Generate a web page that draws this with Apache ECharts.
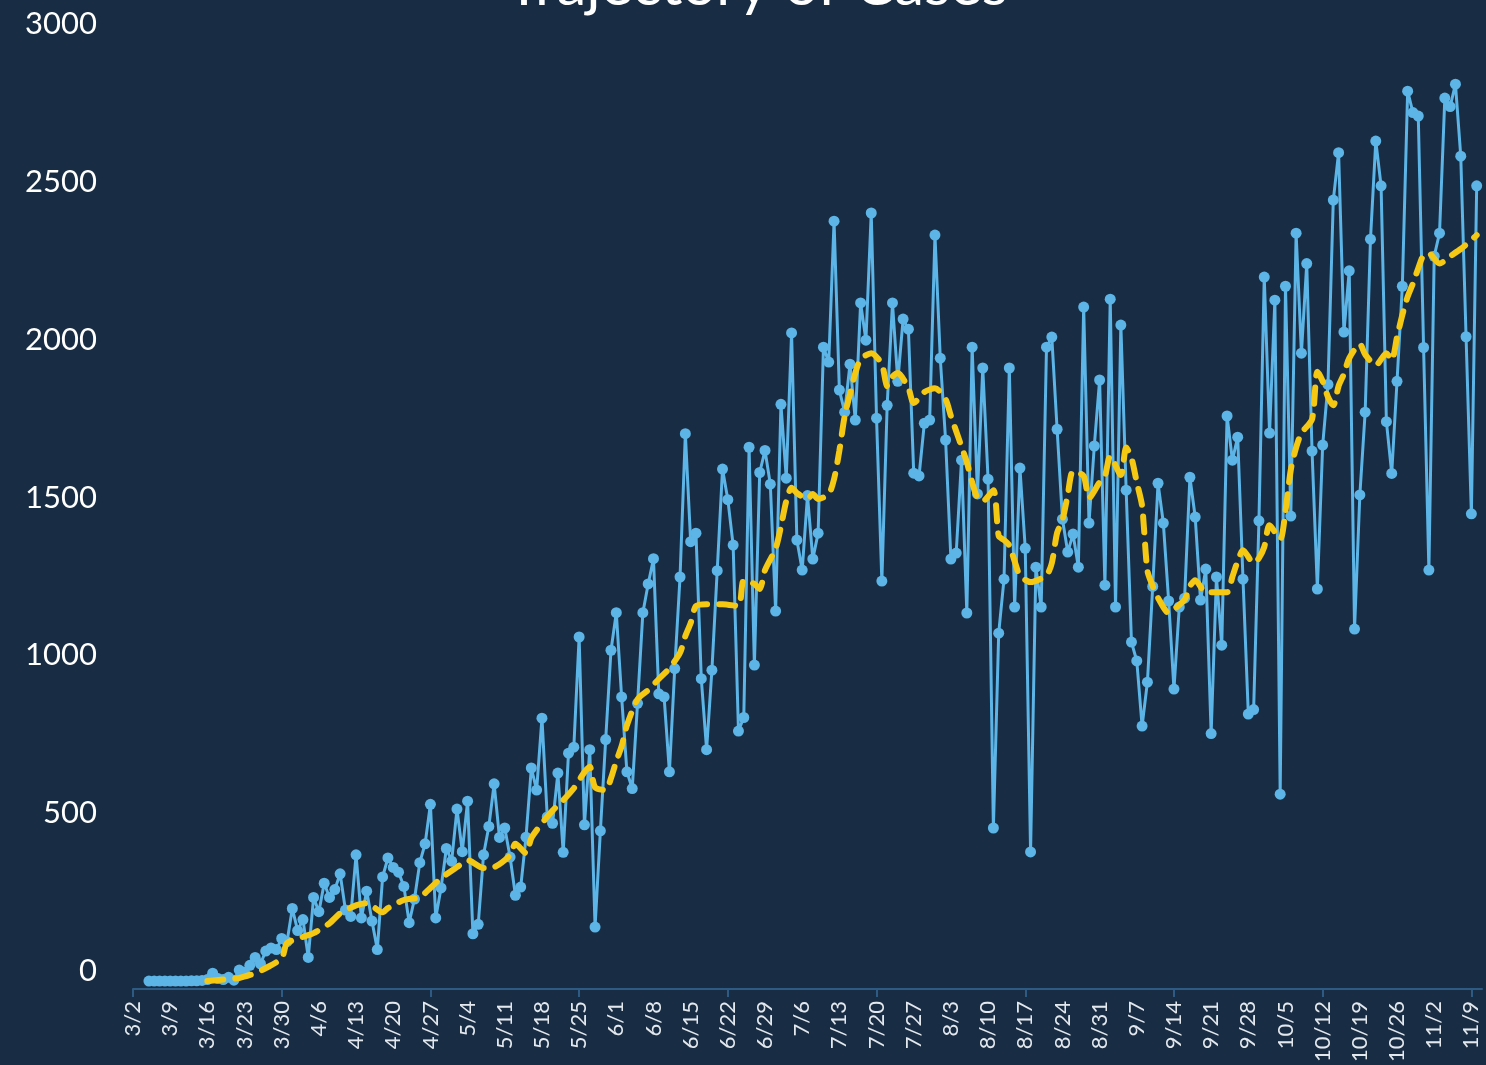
<!DOCTYPE html>
<html>
  <head>
    <meta charset="utf-8" />
    <script src="https://cdn.jsdelivr.net/npm/echarts@6.0.0/dist/echarts.min.js"></script>
    <style>
      html, body { margin: 0; padding: 0; background: #182c44; }
    </style>
  </head>
  <body>
    <div id="main" style="width: 1486px; height: 1065px"></div>

    <script type="text/javascript">
      // weekly tick labels, day 0 = 3/2
      const weekLabels = ["3/2", "3/9", "3/16", "3/23", "3/30", "4/6", "4/13", "4/20", "4/27",
        "5/4", "5/11", "5/18", "5/25", "6/1", "6/8", "6/15", "6/22", "6/29", "7/6", "7/13",
        "7/20", "7/27", "8/3", "8/10", "8/17", "8/24", "8/31", "9/7", "9/14", "9/21", "9/28",
        "10/5", "10/12", "10/19", "10/26", "11/2", "11/9"];
      const lastDay = 254; // 11/11

      // daily cases, first value is day 3 (3/5)
      const firstCaseDay = 3;
      const dailyCases = [
        0, 0, 0, 0, 0, 0, 0, 0,
        1, 1, 2, 5, 25, 8, 5, 12, 3,
        35, 28, 50, 75, 55, 95, 105, 100, 135, 125,
        230, 160, 195, 75, 265, 220, 310, 265, 290, 340,
        225, 205, 400, 200, 285, 190, 100, 330, 390, 360,
        345, 300, 185, 260, 375, 435, 560, 200, 295, 420,
        380, 545, 410, 570, 150, 180, 400, 490, 625, 455,
        485, 393, 272, 298, 456, 675, 605, 833, 520, 500,
        659, 408, 722, 741, 1090, 495, 733, 171, 476, 765,
        1048, 1167, 900, 663, 610, 880, 1167, 1258, 1338, 910,
        900, 663, 990, 1280, 1734, 1392, 1419, 958, 733, 985,
        1300, 1622, 1525, 1381, 792, 835, 1691, 1001, 1611, 1681,
        1574, 1172, 1827, 1593, 2053, 1397, 1302, 1538, 1337, 1419,
        2008, 1961, 2407, 1872, 1802, 1954, 1777, 2148, 2030, 2433,
        1783, 1267, 1824, 2148, 1900, 2097, 2065, 1609, 1600, 1767,
        1777, 2363, 1973, 1714, 1337, 1356, 1650, 1166, 2008, 1543,
        1942, 1590, 485, 1102, 1273, 1942, 1185, 1625, 1371, 409,
        1311, 1185, 2008, 2040, 1748, 1463, 1359, 1416, 1311, 2135,
        1451, 1695, 1904, 1254, 2160, 1185, 2078, 1555, 1074, 1014,
        808, 947, 1250, 1577, 1451, 1204, 925, 1185, 1213, 1596,
        1470, 1207, 1305, 784, 1280, 1064, 1790, 1650, 1723, 1273,
        846, 860, 1458, 2230, 1736, 2157, 592, 2201, 1473, 2369,
        1989, 2273, 1679, 1242, 1698, 1890, 2474, 2624, 2056, 2250,
        1115, 1540, 1802, 2350, 2661, 2519, 1772, 1608, 1900, 2201,
        2819, 2751, 2740, 2007, 1302, 2296, 2369, 2797, 2770, 2841,
        2613, 2041, 1480, 2519
      ];

      // moving average (day index, value)
      const maDays = [14, 17, 20, 23, 25, 28, 29, 32, 34, 37, 39, 42, 44, 47, 48, 51, 54, 56, 58,
        61, 63, 66, 68, 71, 72, 74, 75, 77, 79, 81, 83, 85, 86, 87, 89, 90, 91, 92, 93, 95, 97,
        99, 101, 103, 104, 105, 106, 108, 111, 114, 115, 117, 118, 119, 121, 122, 123, 124, 125,
        127, 128, 129, 131, 132, 133, 134, 135, 136, 137, 139, 141, 142, 143, 144, 146, 147, 149,
        151, 153, 154, 155, 156, 157, 158, 159, 160, 162, 163, 164, 165, 166, 167, 169, 172, 173,
        174, 175, 176, 177, 179, 180, 182, 183, 184, 186, 187, 188, 189, 190, 191, 192, 193, 195,
        196, 198, 199, 200, 202, 206, 207, 208, 209, 211, 212, 213, 214, 216, 217, 218, 219, 220,
        222, 223, 224, 225, 226, 227, 228, 229, 231, 232, 234, 236, 237, 238, 239, 240, 241, 242,
        243, 244, 246, 248, 250, 252, 253];
      const maValues = [0, 5, 10, 25, 41, 73, 120, 140, 152, 183, 215, 240, 247, 218, 231, 257, 266, 295, 326,
        361, 383, 358, 361, 399, 435, 405, 453, 500, 540, 573, 611, 662, 679, 614, 605, 643, 697, 744, 810, 893, 922,
        957, 991, 1040, 1093, 1134, 1188, 1194, 1194, 1188, 1270, 1258, 1242, 1302, 1370, 1440, 1520, 1563, 1546,
        1527, 1543, 1527, 1543, 1590, 1680, 1790, 1860, 1926, 1970, 1989, 1954, 1885, 1915, 1926, 1878, 1831, 1866,
        1878, 1843, 1790, 1742, 1693, 1644, 1580, 1530, 1520, 1555, 1410, 1397, 1380, 1330, 1285, 1264, 1286, 1324,
        1420, 1460, 1540, 1615, 1600, 1530, 1580, 1600, 1663, 1603, 1690, 1657, 1580, 1505, 1300, 1251, 1214, 1166,
        1178, 1208, 1251, 1270, 1232, 1232, 1281, 1330, 1365, 1324, 1340, 1375, 1444, 1400, 1490, 1620, 1690, 1736,
        1780, 1930, 1900, 1850, 1824, 1885, 1923, 1973, 2018, 1985, 1951, 1989, 1967, 2040, 2110, 2168, 2210, 2258,
        2300, 2305, 2273, 2296, 2319, 2347, 2363];

      const yTicks = [0, 500, 1000, 1500, 2000, 2500, 3000];

      const casePoints = dailyCases.map((v, i) => [firstCaseDay + i, v]);
      const maPoints = maDays.map((d, i) => [d, maValues[i]]);

      const labelDays = weekLabels.map((_, i) => i * 7);
      const tickDays = labelDays.filter((d) => d % 28 === 0);

      var option = {
        backgroundColor: "#182c44",
        animation: false,
        title: {
          text: "Trajectory of Cases",
          left: 752,
          textAlign: "center",
          top: -49,
          textStyle: {
            color: "#ffffff",
            fontFamily: "Lato",
            fontWeight: "normal",
            fontSize: 60,
          },
        },
        grid: {
          left: 133,
          right: 4,
          top: 34,
          bottom: 76,
        },
        xAxis: {
          type: "value",
          min: 0,
          max: lastDay,
          splitLine: { show: false },
          axisLine: {
            show: true,
            onZero: false,
            lineStyle: { color: "#2d5b84", width: 2 },
          },
          axisTick: {
            show: true,
            customValues: tickDays,
            length: 8,
            lineStyle: { color: "#2d5b84", width: 2 },
          },
          axisLabel: {
            customValues: labelDays,
            rotate: 90,
            margin: 12,
            color: "#e3e8ee",
            fontFamily: "Lato",
            fontSize: 22,
            formatter: (v) => weekLabels[Math.round(v / 7)],
          },
        },
        yAxis: {
          type: "value",
          min: -25,
          max: 3000,
          splitLine: { show: false },
          axisLine: { show: false },
          axisTick: { show: false },
          axisLabel: {
            customValues: yTicks,
            color: "#ffffff",
            fontFamily: "Lato",
            fontSize: 31,
            margin: 36,
            verticalAlign: "bottom",
            lineHeight: 20,
            formatter: (v) => String(v),
          },
        },
        series: [
          {
            name: "Cases",
            type: "line",
            data: casePoints,
            symbol: "circle",
            symbolSize: 11,
            itemStyle: { color: "#5cb5e6" },
            lineStyle: { color: "#5cb5e6", width: 3 },
            z: 2,
          },
          {
            name: "Average",
            type: "line",
            data: maPoints,
            symbol: "none",
            smooth: 0.25,
            lineStyle: {
              color: "#f5c814",
              width: 6,
              type: [16, 12],
              cap: "round",
            },
            z: 3,
          },
        ],
      };

      const myChart = echarts.init(document.getElementById("main"));
      myChart.setOption(option);
    </script>
  </body>
</html>
